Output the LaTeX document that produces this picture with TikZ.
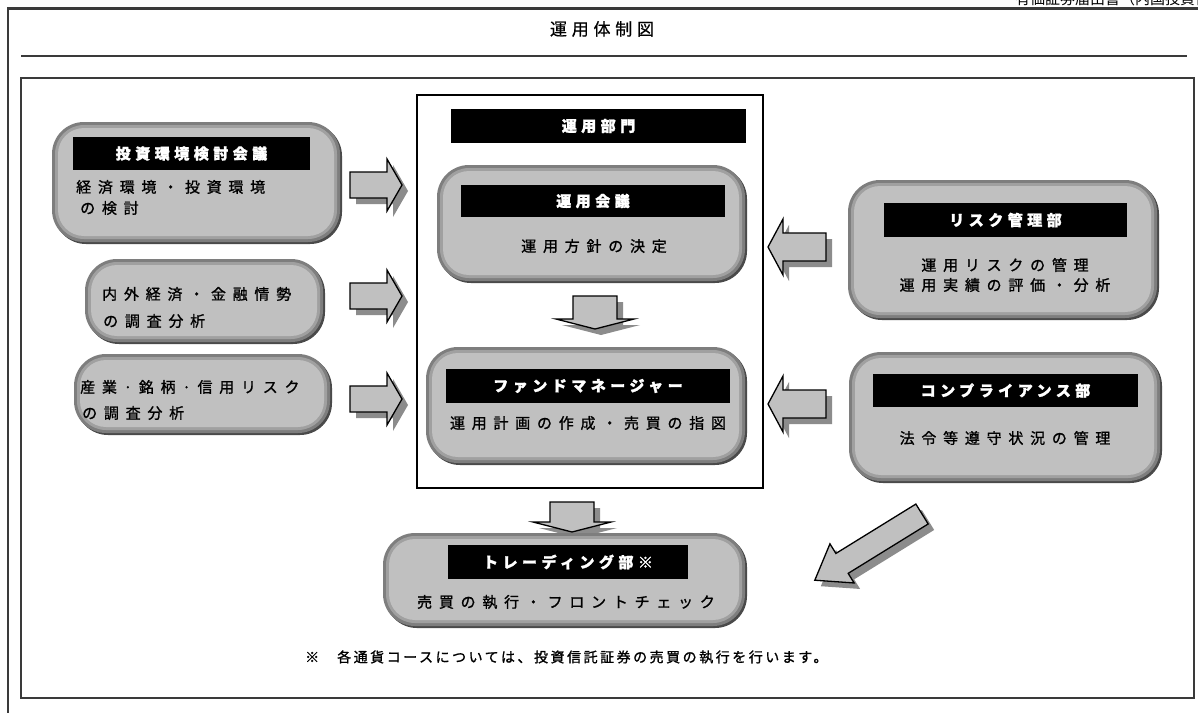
\documentclass[tikz,border=0pt]{standalone}
\usepackage{fontspec}
\setmainfont{Noto Sans CJK JP}
\newfontfamily\jpbody[LetterSpace=45,FakeBold=1.2]{Noto Sans CJK JP}
\newfontfamily\jphead[LetterSpace=30,FakeBold=1.5]{Noto Sans CJK JP}
\newfontfamily\jpnote[LetterSpace=18,FakeBold=1.2]{Noto Sans CJK JP}
\newfontfamily\jptitle[LetterSpace=28,FakeBold=0.6]{Noto Sans CJK JP}
\definecolor{boxfill}{HTML}{C0C0C0}
\definecolor{bevA}{HTML}{4A4A4A}
\definecolor{bevB}{HTML}{7E7E7E}
\definecolor{bevC}{HTML}{A0A0A0}
\definecolor{arrshade}{HTML}{8C8C8C}
\definecolor{lineg}{HTML}{3A3A3A}
\newcommand\rbox[4]{%
  \fill[rounded corners=32pt,bevA] (#1+2,#2+2) rectangle (#3+2,#4+2);
  \fill[rounded corners=32pt,bevB] (#1,#2) rectangle (#3,#4);
  \fill[rounded corners=29pt,bevC] (#1+3,#2+3) rectangle (#3-3,#4-3);
  \fill[rounded corners=26pt,boxfill] (#1+6,#2+6) rectangle (#3-6,#4-6);}
\newcommand\blockarrow[7]{%
  \begin{scope}[shift={(#1+6,#2+6)},rotate=#3]
    \fill[arrshade] (0,-#5) -- (#4-#7,-#5) -- (#4-#7,-#6) -- (#4,0) -- (#4-#7,#6) -- (#4-#7,#5) -- (0,#5) -- cycle;
  \end{scope}
  \begin{scope}[shift={(#1,#2)},rotate=#3]
    \filldraw[fill=boxfill,draw=black,line width=1.3pt,line join=miter] (0,-#5) -- (#4-#7,-#5) -- (#4-#7,-#6) -- (#4,0) -- (#4-#7,#6) -- (#4-#7,#5) -- (0,#5) -- cycle;
  \end{scope}}
\begin{document}
\begin{tikzpicture}[x=1pt,y=-1pt,
  bar/.style={fill=black,text=white,inner sep=0pt,font=\jphead\bfseries\fontsize{15}{18}\selectfont},
  body/.style={inner sep=0pt,font=\jpbody\fontsize{15}{18}\selectfont},
  frameline/.style={draw=lineg,line width=2.2pt}]
\useasboundingbox (0,0) rectangle (1198,713);
\fill[white] (0,0) rectangle (1198,713);
% header text clipped at top
\begin{scope}
  \clip (0,0) rectangle (1198,7.5);
  \node[anchor=base west,inner sep=0pt,font=\fontsize{15}{18}\selectfont] (hdr) at (1015,4) {有価証券届出書（内国投資信託受益証券）};
\end{scope}
% frames
\draw[frameline] (7,8.5) -- (1198,8.5);
\draw[frameline] (8,8.5) -- (8,713);
\node[inner sep=0pt,font=\jptitle\fontsize{17}{20}\selectfont] (title) at (602,29) {運用体制図};
\draw[frameline,line width=2.6pt] (21,56) -- (1187,56);
\draw[frameline] (21,78) rectangle (1194,698);

% left column
\rbox{52}{122}{340}{242}
\node[bar,minimum width=237pt,minimum height=33pt] (b1) at (191.5,153.5) {投資環境検討会議};
\node[body,anchor=west] (t1a) at (76,187) {経済環境・投資環境};
\node[body,anchor=west] (t1b) at (80,208) {の検討};

\rbox{85}{259}{323}{342}
\node[body,anchor=west] (t2a) at (102,294) {内外経済・金融情勢};
\node[body,anchor=west] (t2b) at (103,321) {の調査分析};

\rbox{74}{354}{330}{433}
\node[body,anchor=west] (t3a) at (80,387) {産業·銘柄·信用リスク};
\node[body,anchor=west] (t3b) at (82,413) {の調査分析};

\blockarrow{350}{185}{0}{52}{13}{26}{15}
\blockarrow{350}{296}{0}{52}{13}{26}{15}
\blockarrow{350}{399}{0}{52}{13}{26}{15}

% central department
\draw[draw=black,line width=2.8pt] (417,95) rectangle (763,488);
\node[bar,minimum width=295pt,minimum height=34pt] (dept) at (598.5,126) {運用部門};

\rbox{437}{165}{745}{281}
\node[bar,minimum width=264pt,minimum height=32pt] (mtg) at (593,201) {運用会議};
\node[body] (mtgt) at (594,246) {運用方針の決定};

\blockarrow{595}{296}{-90}{33}{22}{39}{10}

\rbox{426}{347}{745}{463}
\node[bar,minimum width=284pt,minimum height=34pt] (fm) at (588,386) {ファンドマネージャー};
\node[body] (fmt) at (588,423) {運用計画の作成・売買の指図};

% right column
\rbox{848}{180}{1157}{318}
\node[bar,minimum width=243pt,minimum height=34pt] (risk) at (1005.5,220) {リスク管理部};
\node[body] (riska) at (1005,265) {運用リスクの管理};
\node[body] (riskb) at (1005,285) {運用実績の評価・分析};

\blockarrow{826}{247}{180}{58}{14}{28}{15}

\rbox{849}{352}{1160}{481}
\node[bar,minimum width=265pt,minimum height=33pt] (comp) at (1005.5,390.5) {コンプライアンス部};
\node[body] (compt) at (1005,438) {法令等遵守状況の管理};

\blockarrow{826}{404}{180}{58}{14}{28}{15}

% trading
\blockarrow{572}{502}{-90}{30}{22}{39}{10}

\rbox{383}{533}{745}{626}
\node[bar,minimum width=240pt,minimum height=34pt] (trade) at (568,562) {トレーディング部※};
\node[body] (tradet) at (566,602) {売買の執行・フロントチェック};

\blockarrow{922}{514}{211.7}{126}{11.7}{23}{32}

% footnote
\node[anchor=west,inner sep=0pt,font=\jpnote\fontsize{14}{17}\selectfont] (note) at (305,657) {※\hspace{18pt}各通貨コースについては、投資信託証券の売買の執行を行います。};
\end{tikzpicture}
\end{document}
